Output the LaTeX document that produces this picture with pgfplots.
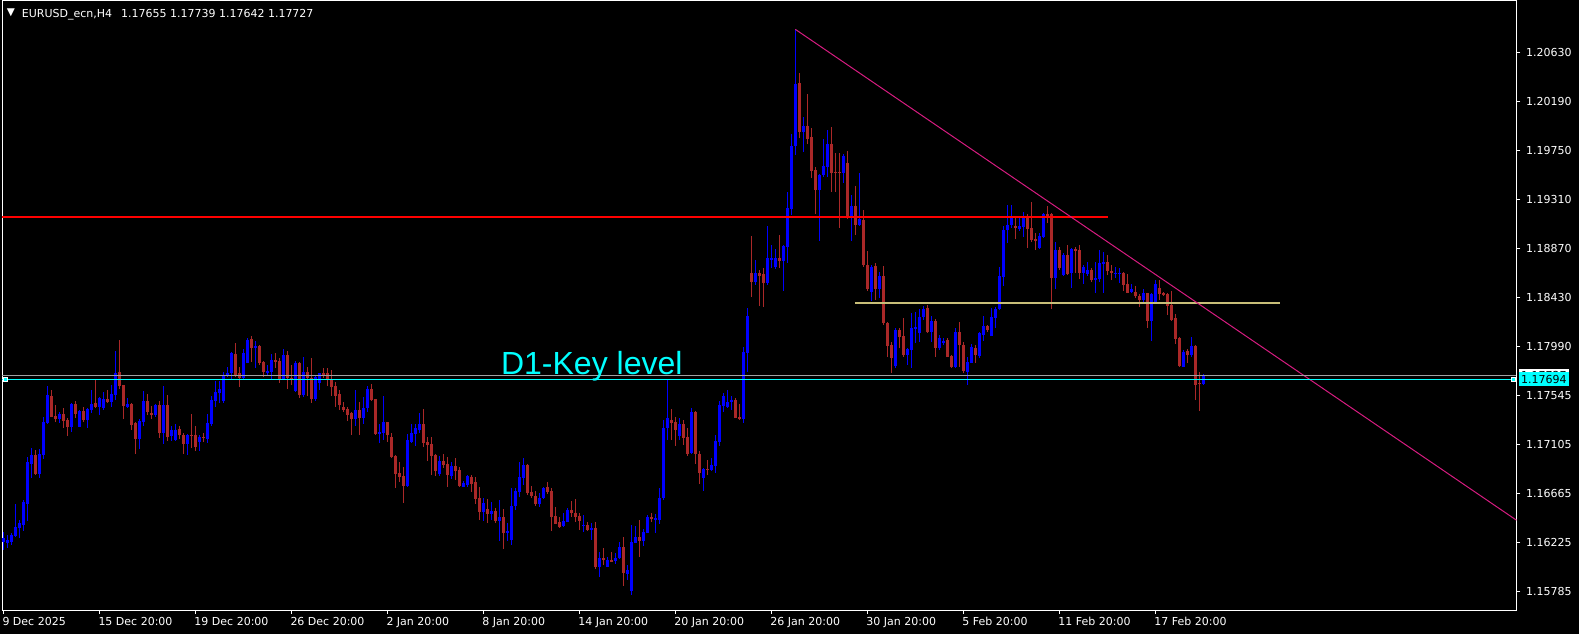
\documentclass[border=0pt]{standalone}
\usepackage{pgfplots}
\pgfplotsset{compat=1.18}
\usepackage{pgfplotstable}
\usepackage{fontspec}
\newfontfamily\dejavu{DejaVu Sans}
\newfontfamily\arialf{Liberation Sans}
\definecolor{bullc}{RGB}{0,0,255}
\definecolor{bearc}{RGB}{170,40,40}
\definecolor{khakic}{RGB}{200,190,120}
\definecolor{trendc}{RGB}{214,28,128}
\definecolor{bidc}{RGB}{160,160,160}
\definecolor{keyc}{RGB}{0,255,255}

\pgfplotstableread{
i o h l c
0 1.16232 1.16322 1.16157 1.16262
1 1.16223 1.16292 1.16172 1.16247
2 1.16232 1.16307 1.16202 1.16292
3 1.16283 1.16571 1.16271 1.16361
4 1.16355 1.16427 1.16262 1.16403
5 1.16382 1.16607 1.16331 1.16592
6 1.16571 1.16997 1.16418 1.16952
7 1.16931 1.17072 1.16802 1.17012
8 1.17012 1.17057 1.16832 1.16841
9 1.16841 1.17063 1.16808 1.17021
10 1.17012 1.17357 1.16973 1.17312
11 1.17297 1.17636 1.17291 1.17552
12 1.17543 1.17597 1.17351 1.17357
13 1.17363 1.17462 1.17312 1.17336
14 1.17336 1.17396 1.17297 1.17378
15 1.17381 1.17432 1.17258 1.17318
16 1.17327 1.17342 1.17186 1.17261
17 1.17264 1.17477 1.17222 1.17471
18 1.17471 1.17498 1.17342 1.17381
19 1.17264 1.17417 1.17261 1.17408
20 1.17408 1.17441 1.17312 1.17327
21 1.17327 1.17432 1.17258 1.17423
22 1.17417 1.17597 1.17387 1.17471
23 1.17477 1.17687 1.17432 1.17441
24 1.17441 1.17537 1.17372 1.17522
25 1.17435 1.17582 1.17417 1.17516
26 1.17516 1.17597 1.17477 1.17489
27 1.17489 1.17642 1.17441 1.17561
28 1.17552 1.17948 1.17507 1.17747
29 1.17759 1.18047 1.17606 1.17633
30 1.17642 1.17642 1.17336 1.17453
31 1.17441 1.17522 1.17432 1.17471
32 1.17471 1.17483 1.17237 1.17282
33 1.17297 1.17312 1.17021 1.17156
34 1.17156 1.17333 1.17069 1.17318
35 1.17312 1.17588 1.17273 1.17498
36 1.17498 1.17561 1.17372 1.17396
37 1.17387 1.17453 1.17336 1.17372
38 1.17372 1.17471 1.17357 1.17462
39 1.17462 1.17498 1.17168 1.17207
40 1.17207 1.17633 1.17111 1.17462
41 1.17462 1.17552 1.17138 1.17177
42 1.17183 1.17273 1.17141 1.17237
43 1.17147 1.17291 1.17138 1.17237
44 1.17246 1.17273 1.17153 1.17192
45 1.17192 1.17213 1.17021 1.17111
46 1.17111 1.17198 1.17012 1.17189
47 1.17192 1.17381 1.17072 1.17186
48 1.17192 1.17273 1.17048 1.17087
49 1.17126 1.17192 1.17048 1.17177
50 1.17177 1.17213 1.17126 1.17168
51 1.17156 1.17381 1.17117 1.17297
52 1.17291 1.17543 1.17273 1.17507
53 1.17498 1.17681 1.17441 1.17582
54 1.17567 1.17681 1.17483 1.17606
55 1.17498 1.17762 1.17483 1.17732
56 1.17726 1.17807 1.17717 1.17753
57 1.17747 1.17942 1.17687 1.17927
58 1.17921 1.18017 1.17711 1.17732
59 1.17753 1.17807 1.17627 1.17711
60 1.17702 1.17963 1.17693 1.17927
61 1.17843 1.18062 1.17837 1.18047
62 1.18053 1.18083 1.17852 1.17978
63 1.17981 1.18038 1.17792 1.17993
64 1.17993 1.18002 1.17822 1.17843
65 1.17846 1.17858 1.17717 1.17762
66 1.17756 1.17822 1.17732 1.17768
67 1.17762 1.17921 1.17693 1.17867
68 1.17867 1.17927 1.17792 1.17849
69 1.17858 1.17882 1.17657 1.17696
70 1.17696 1.17963 1.17687 1.17912
71 1.17912 1.17948 1.17606 1.17702
72 1.17702 1.17822 1.17642 1.17693
73 1.17588 1.17858 1.17582 1.17840
74 1.17840 1.17846 1.17528 1.17552
75 1.17552 1.17897 1.17537 1.17762
76 1.17759 1.17807 1.17546 1.17702
77 1.17702 1.17885 1.17483 1.17516
78 1.17513 1.17732 1.17498 1.17717
79 1.17657 1.17753 1.17597 1.17753
80 1.17753 1.17792 1.17702 1.17732
81 1.17753 1.17798 1.17633 1.17687
82 1.17693 1.17777 1.17546 1.17627
83 1.17633 1.17672 1.17447 1.17546
84 1.17561 1.17597 1.17417 1.17462
85 1.17447 1.17492 1.17402 1.17417
86 1.17423 1.17447 1.17321 1.17372
87 1.17387 1.17402 1.17192 1.17336
88 1.17336 1.17597 1.17276 1.17417
89 1.17417 1.17492 1.17192 1.17348
90 1.17348 1.17537 1.17291 1.17435
91 1.17435 1.17633 1.17396 1.17603
92 1.17603 1.17651 1.17498 1.17507
93 1.17516 1.17516 1.17189 1.17198
94 1.17207 1.17291 1.17123 1.17216
95 1.17207 1.17546 1.17147 1.17312
96 1.17312 1.17312 1.17132 1.17192
97 1.17177 1.17213 1.16982 1.16991
98 1.17003 1.17012 1.16718 1.16841
99 1.16847 1.16952 1.16772 1.16817
100 1.16823 1.16907 1.16583 1.16736
101 1.16736 1.17201 1.16721 1.17147
102 1.17126 1.17291 1.17117 1.17207
103 1.17201 1.17291 1.17093 1.17258
104 1.17237 1.17387 1.17213 1.17291
105 1.17291 1.17426 1.17087 1.17123
106 1.17126 1.17171 1.16961 1.17102
107 1.17108 1.17171 1.16832 1.17006
108 1.17012 1.17021 1.16826 1.16871
109 1.16841 1.17003 1.16826 1.16958
110 1.16958 1.17021 1.16898 1.16922
111 1.16931 1.16997 1.16727 1.16832
112 1.16826 1.16952 1.16796 1.16913
113 1.16913 1.16982 1.16787 1.16871
114 1.16877 1.16907 1.16727 1.16733
115 1.16727 1.16778 1.16721 1.16757
116 1.16739 1.16832 1.16727 1.16823
117 1.16811 1.16832 1.16682 1.16751
118 1.16766 1.16811 1.16571 1.16616
119 1.16622 1.16727 1.16427 1.16502
120 1.16502 1.16622 1.16418 1.16577
121 1.16526 1.16622 1.16397 1.16481
122 1.16481 1.16592 1.16427 1.16508
123 1.16508 1.16532 1.16397 1.16418
124 1.16418 1.16607 1.16241 1.16457
125 1.16457 1.16526 1.16166 1.16313
126 1.16313 1.16397 1.16241 1.16328
127 1.16247 1.16712 1.16202 1.16553
128 1.16553 1.16712 1.16517 1.16688
129 1.16676 1.16952 1.16637 1.16817
130 1.16802 1.16982 1.16742 1.16922
131 1.16922 1.16928 1.16652 1.16667
132 1.16682 1.16733 1.16622 1.16646
133 1.16643 1.16688 1.16556 1.16568
134 1.16568 1.16667 1.16547 1.16622
135 1.16622 1.16727 1.16616 1.16718
136 1.16727 1.16772 1.16658 1.16676
137 1.16688 1.16718 1.16331 1.16457
138 1.16463 1.16541 1.16391 1.16391
139 1.16406 1.16457 1.16352 1.16361
140 1.16373 1.16487 1.16367 1.16421
141 1.16412 1.16532 1.16406 1.16517
142 1.16517 1.16598 1.16457 1.16487
143 1.16487 1.16613 1.16412 1.16457
144 1.16463 1.16493 1.16337 1.16421
145 1.16376 1.16472 1.16322 1.16382
146 1.16382 1.16412 1.16328 1.16337
147 1.16334 1.16397 1.16247 1.16358
148 1.16358 1.16412 1.15986 1.16007
149 1.16007 1.16142 1.15917 1.16088
150 1.16088 1.16178 1.16022 1.16067
151 1.16007 1.16097 1.16007 1.16067
152 1.16067 1.16142 1.16046 1.16052
153 1.16058 1.16133 1.16031 1.16088
154 1.16082 1.16232 1.16073 1.16187
155 1.16187 1.16271 1.15836 1.15947
156 1.15941 1.16022 1.15887 1.15977
157 1.15791 1.16382 1.15752 1.16232
158 1.16223 1.16373 1.16217 1.16277
159 1.16277 1.16427 1.16097 1.16241
160 1.16241 1.16346 1.16196 1.16322
161 1.16313 1.16472 1.16307 1.16457
162 1.16457 1.16493 1.16412 1.16436
163 1.16424 1.16481 1.16307 1.16442
164 1.16427 1.16718 1.16391 1.16622
165 1.16622 1.17327 1.16607 1.17252
166 1.17252 1.17687 1.17147 1.17342
167 1.17327 1.17423 1.17147 1.17303
168 1.17312 1.17357 1.17093 1.17237
169 1.17183 1.17342 1.17147 1.17288
170 1.17291 1.17327 1.17102 1.17168
171 1.17177 1.17252 1.17006 1.17027
172 1.17027 1.17438 1.17018 1.17402
173 1.17402 1.17408 1.16931 1.17018
174 1.17018 1.17048 1.16751 1.16853
175 1.16802 1.16892 1.16688 1.16886
176 1.16886 1.16967 1.16832 1.16880
177 1.16877 1.16982 1.16868 1.16922
178 1.16916 1.17192 1.16853 1.17138
179 1.17132 1.17498 1.17093 1.17462
180 1.17456 1.17567 1.17402 1.17543
181 1.17447 1.17597 1.17432 1.17492
182 1.17492 1.17543 1.17417 1.17507
183 1.17507 1.17522 1.17342 1.17348
184 1.17357 1.17471 1.17327 1.17336
185 1.17336 1.17981 1.17300 1.17942
186 1.17933 1.18332 1.17762 1.18263
187 1.18647 1.18983 1.18437 1.18572
188 1.18572 1.18767 1.18542 1.18647
189 1.18647 1.18677 1.18353 1.18623
190 1.18641 1.18692 1.18341 1.18557
191 1.18557 1.19073 1.18542 1.18782
192 1.18773 1.18902 1.18692 1.18791
193 1.18701 1.18872 1.18692 1.18782
194 1.18782 1.18992 1.18692 1.18761
195 1.18761 1.18902 1.18491 1.18893
196 1.18887 1.19382 1.18737 1.19232
197 1.19226 1.19901 1.19172 1.19793
198 1.19793 1.20843 1.19712 1.20351
199 1.20357 1.20453 1.19862 1.19922
200 1.19922 1.20051 1.19742 1.19973
201 1.19973 1.20261 1.19811 1.19856
202 1.19877 1.19958 1.19502 1.19571
203 1.19577 1.19607 1.19181 1.19397
204 1.19397 1.19541 1.18941 1.19532
205 1.19532 1.19856 1.19517 1.19613
206 1.19607 1.19937 1.19517 1.19811
207 1.19811 1.19967 1.19376 1.19553
208 1.19562 1.19727 1.19376 1.19553
209 1.19562 1.19727 1.19058 1.19553
210 1.19547 1.19718 1.19457 1.19703
211 1.19637 1.19748 1.19133 1.19163
212 1.19163 1.19352 1.18941 1.19253
213 1.19253 1.19436 1.18992 1.19082
214 1.19082 1.19547 1.19073 1.19133
215 1.19127 1.19217 1.18707 1.18722
216 1.18722 1.18851 1.18491 1.18506
217 1.18482 1.18722 1.18398 1.18707
218 1.18713 1.18743 1.18407 1.18506
219 1.18506 1.18662 1.18422 1.18623
220 1.18623 1.18713 1.18182 1.18203
221 1.18203 1.18212 1.17897 1.17996
222 1.18002 1.18032 1.17753 1.17888
223 1.17816 1.18152 1.17792 1.18137
224 1.18137 1.18152 1.17972 1.18077
225 1.18083 1.18242 1.17897 1.17912
226 1.17912 1.17972 1.17822 1.17963
227 1.17957 1.18287 1.17792 1.18152
228 1.18149 1.18302 1.18023 1.18167
229 1.18107 1.18323 1.18032 1.18251
230 1.18251 1.18353 1.18227 1.18326
231 1.18332 1.18362 1.18107 1.18122
232 1.18122 1.18263 1.18032 1.18218
233 1.18218 1.18233 1.17897 1.17972
234 1.17972 1.18092 1.17957 1.18068
235 1.18023 1.18062 1.18002 1.18038
236 1.18047 1.18062 1.17891 1.17897
237 1.17903 1.17912 1.17792 1.17807
238 1.17807 1.18152 1.17792 1.18116
239 1.18116 1.18212 1.17807 1.18002
240 1.18002 1.18032 1.17747 1.17771
241 1.17762 1.17891 1.17642 1.17852
242 1.17843 1.18011 1.17837 1.17981
243 1.17978 1.18002 1.17843 1.17912
244 1.17906 1.18122 1.17882 1.18107
245 1.18092 1.18263 1.18041 1.18173
246 1.18173 1.18182 1.18122 1.18137
247 1.18086 1.18332 1.18086 1.18251
248 1.18245 1.18347 1.18152 1.18323
249 1.18323 1.18701 1.18317 1.18623
250 1.18617 1.19073 1.18536 1.19037
251 1.19037 1.19262 1.18917 1.19082
252 1.19082 1.19262 1.19052 1.19148
253 1.19073 1.19148 1.18953 1.19052
254 1.19043 1.19163 1.19031 1.19073
255 1.19067 1.19196 1.18977 1.19157
256 1.19157 1.19181 1.18878 1.19046
257 1.19052 1.19286 1.18932 1.18947
258 1.18956 1.19013 1.18857 1.18941
259 1.18878 1.19013 1.18866 1.18983
260 1.18977 1.19193 1.18968 1.19181
261 1.19181 1.19256 1.19097 1.19172
262 1.19178 1.19187 1.18323 1.18608
263 1.18608 1.18932 1.18503 1.18857
264 1.18863 1.18887 1.18677 1.18701
265 1.18632 1.18827 1.18626 1.18812
266 1.18812 1.18902 1.18632 1.18641
267 1.18647 1.18872 1.18518 1.18863
268 1.18866 1.18881 1.18647 1.18848
269 1.18857 1.18902 1.18593 1.18647
270 1.18647 1.18722 1.18551 1.18701
271 1.18638 1.18752 1.18626 1.18677
272 1.18677 1.18692 1.18572 1.18587
273 1.18593 1.18752 1.18467 1.18602
274 1.18593 1.18857 1.18572 1.18737
275 1.18737 1.18842 1.18473 1.18752
276 1.18752 1.18812 1.18632 1.18668
277 1.18668 1.18722 1.18587 1.18647
278 1.18647 1.18701 1.18602 1.18653
279 1.18647 1.18692 1.18563 1.18653
280 1.18647 1.18662 1.18488 1.18542
281 1.18548 1.18641 1.18467 1.18473
282 1.18482 1.18548 1.18467 1.18506
283 1.18476 1.18536 1.18422 1.18443
284 1.18443 1.18461 1.18347 1.18407
285 1.18407 1.18503 1.18377 1.18467
286 1.18467 1.18473 1.18152 1.18221
287 1.18221 1.18467 1.18041 1.18461
288 1.18392 1.18587 1.18377 1.18551
289 1.18518 1.18587 1.18407 1.18461
290 1.18473 1.18482 1.18443 1.18452
291 1.18461 1.18467 1.18272 1.18353
292 1.18362 1.18488 1.18221 1.18227
293 1.18242 1.18281 1.18011 1.18056
294 1.18068 1.18077 1.17807 1.17813
295 1.17807 1.17957 1.17801 1.17942
296 1.17948 1.17963 1.17843 1.17912
297 1.17912 1.18077 1.17897 1.17993
298 1.17993 1.18002 1.17507 1.17642
299 1.17663 1.17762 1.17411 1.17651
300 1.17655 1.17739 1.17642 1.17727
}\candles

\begin{document}
\begin{tikzpicture}
\useasboundingbox (-2.3pt,-24pt) rectangle (1576.7pt,610pt);
\fill[black] (-2.3pt,-24pt) rectangle (1576.7pt,610pt);
\begin{axis}[
  at={(0pt,0pt)}, anchor=south west,
  scale only axis, width=1514.2pt, height=609pt,
  xmin=-0.25, xmax=378.3, ymin=1.15617, ymax=1.21098,
  clip=false, scaled y ticks=false, scaled x ticks=false,
  axis line style={white, line width=1pt},
  tick style={white, line width=1pt},
  major tick length=4pt, tick align=outside,
  xtick pos=left, ytick pos=right,
  xticklabel pos=left, yticklabel pos=right,
  xtick={0,24,48,72,96,120,144,168,192,216,240,264,288},
  xticklabels={9 Dec 2025,15 Dec 20:00,19 Dec 20:00,26 Dec 20:00,2 Jan 20:00,8 Jan 20:00,14 Jan 20:00,20 Jan 20:00,26 Jan 20:00,30 Jan 20:00,5 Feb 20:00,11 Feb 20:00,17 Feb 20:00},
  ytick={1.20630,1.20190,1.19750,1.19310,1.18870,1.18430,1.17990,1.17545,1.17105,1.16665,1.16225,1.15785},
  yticklabels={1.20630,1.20190,1.19750,1.19310,1.18870,1.18430,1.17990,1.17545,1.17105,1.16665,1.16225,1.15785},
  ticklabel style={font=\dejavu\fontsize{11}{13}\selectfont, text=white, inner sep=0pt},
  xticklabel style={anchor=north west, xshift=-1pt, yshift=-3pt},
  yticklabel style={anchor=west, xshift=5.5pt},
]
% wicks
\addplot[mark=none, draw=none, forget plot,
  restrict expr to domain={\thisrow{c}-\thisrow{o}}{0:1},
  error bars/.cd, y dir=both, y explicit, error mark=none,
  error bar style={draw=bullc, solid, line width=1pt}]
  table[x=i, y expr={(\thisrow{h}+\thisrow{l})/2}, y error expr={(\thisrow{h}-\thisrow{l})/2}] {\candles};
\addplot[mark=none, draw=none, forget plot,
  restrict expr to domain={\thisrow{c}-\thisrow{o}}{-1:-0.000001},
  error bars/.cd, y dir=both, y explicit, error mark=none,
  error bar style={draw=bearc, solid, line width=1pt}]
  table[x=i, y expr={(\thisrow{h}+\thisrow{l})/2}, y error expr={(\thisrow{h}-\thisrow{l})/2}] {\candles};
% bodies
\addplot[mark=none, draw=none, forget plot,
  restrict expr to domain={\thisrow{c}-\thisrow{o}}{0:1},
  error bars/.cd, y dir=both, y explicit, error mark=none,
  error bar style={draw=bullc, solid, line width=3pt}]
  table[x=i, y expr={(\thisrow{o}+\thisrow{c})/2}, y error expr={max(abs(\thisrow{c}-\thisrow{o})/2,0.00004)}] {\candles};
\addplot[mark=none, draw=none, forget plot,
  restrict expr to domain={\thisrow{c}-\thisrow{o}}{-1:-0.000001},
  error bars/.cd, y dir=both, y explicit, error mark=none,
  error bar style={draw=bearc, solid, line width=3pt}]
  table[x=i, y expr={(\thisrow{o}+\thisrow{c})/2}, y error expr={max(abs(\thisrow{c}-\thisrow{o})/2,0.00004)}] {\candles};
% objects
\addplot[color=red, line width=2pt, mark=none, forget plot] coordinates {(-0.25,1.19157) (276.1,1.19157)};
\addplot[color=khakic, line width=2pt, mark=none, forget plot] coordinates {(212.9,1.18383) (319.2,1.18383)};
\addplot[color=trendc, line width=1pt, mark=none, forget plot] coordinates {(198,1.20843) (378.3,1.16425)};
\addplot[color=bidc, line width=1pt, mark=none, forget plot] coordinates {(-0.25,1.17727) (378.3,1.17727)};
\addplot[color=keyc, line width=1pt, mark=none, forget plot] coordinates {(-0.25,1.17694) (378.3,1.17694)};
\addplot[only marks, mark=square*, mark size=2pt, mark options={fill=keyc, draw=white, line width=0.8pt}, forget plot] coordinates {(0.5,1.17694) (377.6,1.17694)};
\node[anchor=base west, inner sep=0pt, text=keyc, font=\arialf\fontsize{32}{36}\selectfont] at (axis cs:124.4,1.17732) {D1-Key level};
\node[fill=white, text=black, anchor=west, inner xsep=2pt, inner ysep=0pt, minimum height=14pt, font=\dejavu\fontsize{11}{13}\selectfont] at (axis cs:378.9,1.17727) {1.17727};
\node[fill=keyc, text=black, anchor=west, inner xsep=2pt, inner ysep=0pt, minimum height=14pt, font=\dejavu\fontsize{11}{13}\selectfont] at (axis cs:378.9,1.17694) {1.17694};
\end{axis}
\node[anchor=west, inner sep=0pt, text=white, font=\dejavu\fontsize{10.5}{12}\selectfont] at (4.4pt,597.5pt) {▼};
\node[anchor=base west, inner sep=0pt, text=white, font=\dejavu\fontsize{11}{13}\selectfont] at (19.4pt,592.7pt) {EURUSD\_ecn,H4\hspace{9pt}1.17655 1.17739 1.17642 1.17727};
\end{tikzpicture}
\end{document}
